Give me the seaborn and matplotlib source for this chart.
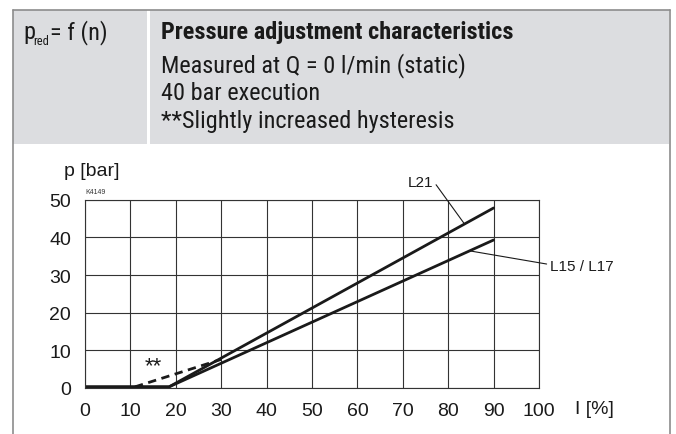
import matplotlib
matplotlib.use("Agg")
import matplotlib.pyplot as plt
from matplotlib import font_manager
from matplotlib.lines import Line2D
from matplotlib.patches import Rectangle
import pandas as pd
import seaborn as sns

# ---------------------------------------------------------------------
# Data
# ---------------------------------------------------------------------

current_pct = [0, 18.5, 90]          # I [%]
p_l21 = [0.3, 0.3, 47.8]             # p [bar], L21
p_l15 = [0.3, 0.3, 39.3]             # p [bar], L15 / L17
hyst_pct = [11, 30]                  # dashed branch, slightly increased hysteresis
hyst_p = [0.3, 7.6]
x_ticks = [0, 10, 20, 30, 40, 50, 60, 70, 80, 90, 100]
y_ticks = [0, 10, 20, 30, 40, 50]

header_lines = [
    "Pressure adjustment characteristics",
    "Measured at Q = 0 l/min (static)",
    "40 bar execution",
    "**Slightly increased hysteresis",
]
header_baselines = [39, 72, 100, 128]   # px from top

df = pd.DataFrame({
    "I": current_pct + current_pct + hyst_pct,
    "p": p_l21 + p_l15 + hyst_p,
    "curve": ["L21"] * 3 + ["L15 / L17"] * 3 + ["hyst"] * 2,
})

sns.set_theme(style="white")
plt.rcParams["font.family"] = ["Liberation Sans", "DejaVu Sans"]

# condensed face for the header, like the data sheet
avail = {f.name for f in font_manager.fontManager.ttflist}
narrow = [n for n in ("Roboto Condensed", "Liberation Sans Narrow",
                      "Open Sans Condensed") if n in avail]
head_font = narrow[0] if narrow else "Liberation Sans"

W, H = 676, 435
fig = plt.figure(figsize=(W / 100, H / 100), dpi=100)


def fx(px):
    return px / W


def fy(py):
    return 1 - py / H


# frame and grey header box
fig.add_artist(Rectangle((fx(13), fy(145)), fx(656), 134 / H,
                         facecolor="#dcdde0", edgecolor="none"))
fig.add_artist(Rectangle((fx(147), fy(145)), fx(2.5), 134 / H,
                         facecolor="white", edgecolor="none"))
gray = "#8c8c8c"
fig.add_artist(Line2D([fx(12.5), fx(12.5)], [fy(10.5), 0], color=gray, lw=1.2))
fig.add_artist(Line2D([fx(669.5), fx(669.5)], [fy(10.5), 0], color=gray, lw=1.2))
fig.add_artist(Line2D([fx(12.5), fx(669.5)], [fy(10.5), fy(10.5)], color=gray, lw=1.2))

# header text
hs = 17.5
ink = "#1a1a1a"
fig.text(fx(23), fy(39), "p", family=head_font, fontsize=hs, va="baseline", color=ink)
fig.text(fx(33), fy(45), "red", family=head_font, fontsize=9, va="baseline", color=ink)
fig.text(fx(50), fy(39), "= f (n)", family=head_font, fontsize=hs, va="baseline", color=ink)
for i, (line, base) in enumerate(zip(header_lines, header_baselines)):
    fig.text(fx(161), fy(base), line, family=head_font, fontsize=hs,
             fontweight="bold" if i == 0 else "normal", va="baseline", color=ink)

# chart
ax = fig.add_axes([fx(85), fy(389), fx(539 - 85), (389 - 200.7) / H])
sns.lineplot(
    data=df, x="I", y="p", hue="curve", style="curve",
    palette={"L21": ink, "L15 / L17": ink, "hyst": ink},
    dashes={"L21": "", "L15 / L17": "", "hyst": (3, 2)},
    estimator=None, sort=False, legend=False, lw=2, ax=ax,
)
ax.set_xlim(0, 100)
ax.set_ylim(0, 50)
ax.set_xticks(x_ticks)
ax.set_yticks(y_ticks)
ax.set_xlabel("")
ax.set_ylabel("")
ax.grid(True, color="#333333", lw=0.8)
for s in ax.spines.values():
    s.set_color("#333333")
    s.set_linewidth(0.8)
ax.tick_params(length=0, pad=10, labelsize=14, colors=ink)

fig.text(fx(64), fy(171), "p [bar]", fontsize=14, va="center", color=ink)
fig.text(fx(575), fy(410), "I [%]", fontsize=14, va="center", color=ink)
ax.text(0, 51.2, "K4149", fontsize=5, va="bottom", color="#333333")
ax.text(15, 6.0, "**", fontsize=16, ha="center", va="center", color=ink)

ax.annotate("L21", xy=(83.5, 43.7), xytext=(73.8, 54.8), ha="center", va="center",
            fontsize=11, color=ink, annotation_clip=False,
            arrowprops=dict(arrowstyle="-", lw=0.8, color=ink,
                            relpos=(1, 0.6), shrinkA=0, shrinkB=0))
ax.annotate("L15 / L17", xy=(84.8, 36.4), xytext=(102.4, 32.4), ha="left", va="center",
            fontsize=11, color=ink, annotation_clip=False,
            arrowprops=dict(arrowstyle="-", lw=0.8, color=ink,
                            relpos=(0, 0.6), shrinkA=0, shrinkB=0))

fig.savefig("out.png", dpi=100)
